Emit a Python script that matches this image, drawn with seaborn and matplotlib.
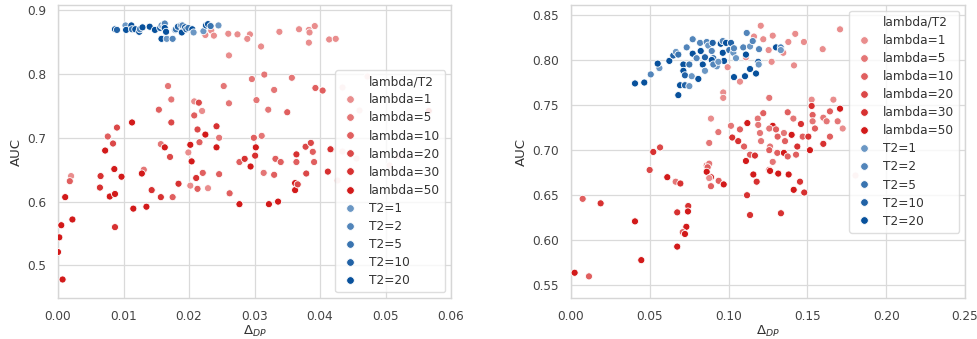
import matplotlib
matplotlib.use("Agg")
import matplotlib.pyplot as plt
from matplotlib.lines import Line2D
import seaborn as sns
import pandas as pd

# ---------------- data ----------------
LEGEND_TITLE = "lambda/T2"
group_labels = ["lambda=1", "lambda=5", "lambda=10", "lambda=20", "lambda=30", "lambda=50",
                "T2=1", "T2=2", "T2=5", "T2=10", "T2=20"]
group_codes = ["l1", "l5", "l10", "l20", "l30", "l50", "t1", "t2", "t5", "t10", "t20"]

# left panel
left_dp = [
    0.0234, 0.0238, 0.0225, 0.0260, 0.0274, 0.0293, 0.0289, 0.0310, 0.0338, 0.0368, 0.0383, 0.0384,
    0.0392, 0.0383, 0.0414, 0.0424, 0.0261, 0.0296, 0.0315, 0.0357, 0.0253, 0.0330, 0.0393, 0.0404,
    0.0168, 0.0261, 0.0303, 0.0321, 0.0350, 0.0173, 0.0208, 0.0215, 0.0220, 0.0154, 0.0208, 0.0566,
    0.0113, 0.0173, 0.0090, 0.0242, 0.0213, 0.0225, 0.0246, 0.0076, 0.0084, 0.0072, 0.0157, 0.0163,
    0.0202, 0.0216, 0.0242, 0.0199, 0.0171, 0.0204, 0.0277, 0.0285, 0.0294, 0.0086, 0.0299, 0.0311,
    0.0302, 0.0301, 0.0332, 0.0340, 0.0364, 0.0364, 0.0378, 0.0386, 0.0389, 0.0391, 0.0416, 0.0020,
    0.0018, 0.0065, 0.0097, 0.0131, 0.0128, 0.0221, 0.0246, 0.0211, 0.0064, 0.0184, 0.0202, 0.0213,
    0.0229, 0.0143, 0.0011, 0.0079, 0.0087, 0.0157, 0.0175, 0.0262, 0.0115, 0.0135, 0.0277, 0.0022,
    0.0005, 0.0087, 0.0002, 0.0000, 0.0007, 0.0314, 0.0330, 0.0379, 0.0412, 0.0322, 0.0336, 0.0362,
    0.0362, 0.0366,
    0.0087, 0.0090, 0.0103, 0.0104, 0.0112, 0.0113, 0.0118, 0.0124, 0.0125, 0.0129, 0.0140, 0.0148,
    0.0156, 0.0158, 0.0158, 0.0161, 0.0163, 0.0163, 0.0165, 0.0166, 0.0175, 0.0179, 0.0180, 0.0183,
    0.0188, 0.0189, 0.0190, 0.0194, 0.0196, 0.0199, 0.0205, 0.0207, 0.0222, 0.0226, 0.0229, 0.0233,
    0.0245,
]
left_auc = [
    0.868, 0.860, 0.861, 0.863, 0.862, 0.862, 0.855, 0.843, 0.866, 0.870, 0.869, 0.865,
    0.875, 0.849, 0.854, 0.855, 0.829, 0.792, 0.799, 0.794, 0.781, 0.775, 0.778, 0.774,
    0.781, 0.754, 0.759, 0.744, 0.740, 0.760, 0.757, 0.755, 0.742, 0.744, 0.735, 0.742,
    0.724, 0.724, 0.716, 0.718, 0.713, 0.705, 0.700, 0.702, 0.691, 0.680, 0.690, 0.685,
    0.689, 0.693, 0.685, 0.677, 0.670, 0.663, 0.662, 0.667, 0.655, 0.651, 0.700, 0.703,
    0.685, 0.672, 0.667, 0.662, 0.674, 0.662, 0.686, 0.692, 0.678, 0.662, 0.682, 0.640,
    0.632, 0.640, 0.639, 0.650, 0.644, 0.645, 0.643, 0.637, 0.622, 0.628, 0.625, 0.620,
    0.621, 0.618, 0.607, 0.608, 0.612, 0.607, 0.607, 0.613, 0.589, 0.592, 0.596, 0.572,
    0.563, 0.560, 0.544, 0.521, 0.478, 0.645, 0.642, 0.644, 0.647, 0.596, 0.600, 0.629,
    0.618, 0.627,
    0.870, 0.869, 0.876, 0.869, 0.876, 0.870, 0.870, 0.866, 0.870, 0.873, 0.874, 0.869,
    0.872, 0.855, 0.876, 0.874, 0.879, 0.872, 0.866, 0.855, 0.855, 0.869, 0.870, 0.874,
    0.876, 0.865, 0.876, 0.873, 0.870, 0.872, 0.870, 0.865, 0.867, 0.876, 0.878, 0.875,
    0.876,
]
left_group = [
    "l1", "l1", "l1", "l1", "l1", "l1", "l1", "l1", "l1", "l1", "l1", "l1",
    "l1", "l1", "l1", "l1", "l1", "l5", "l5", "l5", "l5", "l5", "l10", "l10",
    "l5", "l5", "l5", "l5", "l10", "l5", "l1", "l20", "l1", "l10", "l10", "l1",
    "l50", "l20", "l20", "l30", "l20", "l50", "l5", "l10", "l20", "l50", "l5", "l50",
    "l50", "l10", "l50", "l1", "l20", "l50", "l10", "l30", "l50", "l50", "l10", "l5",
    "l50", "l30", "l10", "l10", "l30", "l10", "l20", "l20", "l10", "l10", "l30", "l1",
    "l10", "l30", "l50", "l5", "l50", "l10", "l10", "l30", "l30", "l30", "l1", "l10",
    "l1", "l30", "l50", "l50", "l50", "l30", "l10", "l10", "l50", "l50", "l50", "l50",
    "l50", "l30", "l50", "l50", "l50", "l5", "l10", "l20", "l30", "l50", "l50", "l50",
    "l50", "l20",
    "t20", "t10", "t1", "t20", "t20", "t5", "t20", "t20", "t2", "t20", "t20", "t20",
    "t10", "t20", "t1", "t2", "t2", "t20", "t20", "t1", "t2", "t20", "t5", "t10",
    "t20", "t20", "t2", "t20", "t10", "t5", "t20", "t1", "t1", "t20", "t20", "t5",
    "t1",
]
left_faint_dp = [0.0433, 0.0472, 0.0459, 0.0417, 0.0433, 0.0455, 0.0426, 0.0519, 0.0505]
left_faint_auc = [0.779, 0.797, 0.743, 0.682, 0.680, 0.668, 0.634, 0.671, 0.657]

# right panel
right_dp = [
    0.1204, 0.1161, 0.1220, 0.1280, 0.1423, 0.1379, 0.1478, 0.1347, 0.1254, 0.1110, 0.1273, 0.1415,
    0.0994, 0.1072, 0.0966, 0.0966, 0.1707, 0.1597, 0.1258,
    0.1665, 0.1527, 0.1527, 0.1707, 0.1643, 0.1533, 0.1375, 0.1220, 0.0888, 0.1185, 0.1411, 0.1601,
    0.1622, 0.1533, 0.1015, 0.1119, 0.1280, 0.1459, 0.1548, 0.1188, 0.1199, 0.1258, 0.1301, 0.0935,
    0.1023, 0.1072, 0.1061, 0.1311, 0.1351, 0.1400, 0.1470, 0.1506, 0.1643, 0.1724, 0.1692, 0.0877,
    0.1206, 0.1263, 0.1358, 0.1436, 0.1516, 0.1601, 0.1098, 0.1136, 0.1167, 0.1110, 0.1258, 0.1309,
    0.1351, 0.1375, 0.1428, 0.1280, 0.0522, 0.0565, 0.1258, 0.0861,
    0.1263, 0.1315, 0.1381, 0.1453, 0.1413, 0.1480, 0.1117, 0.1136, 0.1332, 0.1157, 0.1178, 0.0499,
    0.0611, 0.0664, 0.0694, 0.0877, 0.0867, 0.0861, 0.0888, 0.0877, 0.0888, 0.0937, 0.0969, 0.0074,
    0.0188, 0.0406, 0.0446, 0.0674, 0.0744, 0.0742, 0.0732, 0.0709, 0.0723, 0.0674, 0.0023, 0.0114,
    0.0406, 0.0465, 0.0506, 0.0561, 0.0550, 0.0624, 0.0649, 0.0666, 0.0681, 0.0681, 0.0692, 0.0723,
    0.0751, 0.0713, 0.0713, 0.0723, 0.0734, 0.0772, 0.0751, 0.0772, 0.0766, 0.0808, 0.0797, 0.0819,
    0.0823, 0.0850, 0.0836, 0.0850, 0.0861, 0.0871, 0.0893, 0.0899, 0.0903, 0.0893, 0.0925, 0.0903,
    0.0950, 0.0963, 0.0963, 0.0971, 0.0935, 0.0984, 0.1015, 0.1004, 0.1030, 0.1034, 0.1047, 0.1034,
    0.1093, 0.1110, 0.1104, 0.1115, 0.1136, 0.1136, 0.1153, 0.1174, 0.1188, 0.1191, 0.1193, 0.1301,
    0.1331, 0.1331,
]
right_auc = [
    0.838, 0.826, 0.823, 0.827, 0.829, 0.820, 0.820, 0.808, 0.811, 0.803, 0.798, 0.794,
    0.792, 0.776, 0.764, 0.758, 0.834, 0.812, 0.758,
    0.756, 0.756, 0.749, 0.746, 0.743, 0.739, 0.742, 0.741, 0.735, 0.735, 0.735, 0.736,
    0.732, 0.732, 0.727, 0.730, 0.727, 0.729, 0.724, 0.728, 0.719, 0.724, 0.723, 0.720,
    0.714, 0.723, 0.710, 0.715, 0.719, 0.717, 0.715, 0.715, 0.715, 0.724, 0.732, 0.708,
    0.710, 0.704, 0.710, 0.704, 0.700, 0.707, 0.704, 0.695, 0.694, 0.688, 0.700, 0.697,
    0.697, 0.693, 0.695, 0.687, 0.698, 0.703, 0.678, 0.683,
    0.677, 0.674, 0.673, 0.665, 0.656, 0.653, 0.650, 0.628, 0.630, 0.673, 0.665, 0.678,
    0.670, 0.665, 0.663, 0.685, 0.681, 0.676, 0.670, 0.669, 0.660, 0.666, 0.662, 0.646,
    0.641, 0.621, 0.578, 0.631, 0.638, 0.632, 0.615, 0.609, 0.607, 0.593, 0.564, 0.560,
    0.774, 0.775, 0.784, 0.791, 0.796, 0.799, 0.805, 0.809, 0.806, 0.761, 0.772, 0.772,
    0.771, 0.795, 0.788, 0.783, 0.814, 0.823, 0.795, 0.807, 0.782, 0.779, 0.802, 0.819,
    0.810, 0.803, 0.795, 0.788, 0.820, 0.816, 0.810, 0.819, 0.802, 0.800, 0.793, 0.795,
    0.818, 0.821, 0.808, 0.799, 0.798, 0.819, 0.819, 0.811, 0.808, 0.813, 0.802, 0.781,
    0.814, 0.806, 0.782, 0.830, 0.815, 0.790, 0.821, 0.785, 0.798, 0.795, 0.812, 0.814,
    0.814, 0.811,
]
right_group = [
    "l1", "l1", "l1", "l1", "l1", "l1", "l1", "l1", "l1", "l1", "l1", "l1",
    "l1", "l1", "l1", "l1", "l1", "l1", "l5",
    "l1", "l1", "l30", "l50", "l10", "l10", "l10", "l10", "l1", "l5", "l5", "l5",
    "l5", "l5", "l5", "l50", "l50", "l30", "l10", "l5", "l5", "l5", "l10", "l5",
    "l30", "l10", "l30", "l10", "l5", "l50", "l10", "l30", "l10", "l1", "l5", "l5",
    "l5", "l5", "l10", "l30", "l50", "l30", "l10", "l10", "l30", "l50", "l10", "l10",
    "l50", "l10", "l10", "l5", "l30", "l20", "l50", "l5",
    "l50", "l50", "l50", "l30", "l50", "l30", "l30", "l30", "l30", "l50", "l30", "l20",
    "l50", "l5", "l30", "l5", "l10", "l50", "l50", "l1", "l10", "l10", "l50", "l10",
    "l30", "l50", "l50", "l30", "l30", "l50", "l50", "l10", "l50", "l50", "l50", "l10",
    "t20", "t20", "t2", "t1", "t20", "t20", "t10", "t1", "t5", "t20", "t20", "t10",
    "t1", "t20", "t20", "t10", "t2", "t2", "t5", "t20", "t1", "t20", "t2", "t2",
    "t20", "t10", "t20", "t1", "t2", "t1", "t2", "t10", "t5", "t20", "t1", "t2",
    "t20", "t2", "t20", "t20", "t1", "t20", "t10", "t5", "t1", "t2", "t1", "t20",
    "t2", "t20", "t20", "t2", "t1", "t20", "t2", "t20", "t10", "t1", "t2", "t20",
    "t2", "t1",
]
right_faint_dp = [0.180]
right_faint_auc = [0.672]

# ---------------- styling ----------------
def blend(base, a):
    return tuple(a * c / 255 + (1 - a) for c in base)

RED = (210, 26, 26)
BLUE = (8, 81, 156)
alphas_red = [0.5, 0.6, 0.7, 0.8, 0.9, 1.0]
alphas_blue = [0.6, 0.7, 0.8, 0.9, 1.0]
colors = [blend(RED, a) for a in alphas_red] + [blend(BLUE, a) for a in alphas_blue]
palette = dict(zip(group_labels, colors))
faint_color = blend(RED, 0.2)
code_to_label = dict(zip(group_codes, group_labels))

sns.set_theme(style="whitegrid")
plt.rcParams["font.family"] = ["DejaVu Sans"]
plt.rcParams["mathtext.fontset"] = "dejavusans"

fig = plt.figure(figsize=(9.78, 3.39), dpi=100)
W, H = 978, 339
ax1 = fig.add_axes([58 / W, (H - 298) / H, (451 - 58) / W, (298 - 5) / H])
ax2 = fig.add_axes([571 / W, (H - 298) / H, (965 - 571) / W, (298 - 5) / H])


def draw(ax, dp, auc, grp, fdp, fauc, xlim, ylim, xticks, yticks, xfmt, yfmt, loc):
    df = pd.DataFrame({"dp": dp, "auc": auc, "grp": [code_to_label[g] for g in grp]})
    sns.scatterplot(x=fdp, y=fauc, color=faint_color, s=26, edgecolor="white",
                    linewidth=0.6, ax=ax, legend=False, zorder=2)
    sns.scatterplot(data=df, x="dp", y="auc", hue="grp", hue_order=group_labels,
                    palette=palette, s=26, edgecolor="white", linewidth=0.6,
                    ax=ax, legend=False, zorder=3)
    ax.set_xlim(*xlim)
    ax.set_ylim(*ylim)
    ax.set_xticks(xticks)
    ax.set_yticks(yticks)
    ax.set_xticklabels([xfmt.format(t) for t in xticks])
    ax.set_yticklabels([yfmt.format(t) for t in yticks])
    ax.tick_params(labelsize=8.7, colors="#444444", pad=2.5)
    ax.set_xlabel(r"$\Delta_{DP}$", fontsize=9.5, color="#333333", labelpad=0.5)
    ax.set_ylabel("AUC", fontsize=9.5, color="#333333", labelpad=3)
    for sp in ax.spines.values():
        sp.set_color("#d6d6d6")
        sp.set_linewidth(1.0)
    ax.grid(color="#dadada", linewidth=0.9)
    handles = [Line2D([], [], linestyle="", marker="")]
    labels = [LEGEND_TITLE]
    for lab in group_labels:
        handles.append(Line2D([], [], linestyle="", marker="o", markersize=5.5,
                              markerfacecolor=palette[lab], markeredgecolor="white",
                              markeredgewidth=0.6))
        labels.append(lab)
    leg = ax.legend(handles, labels, loc=loc, fontsize=8.7, frameon=True,
                    labelspacing=0.42, handletextpad=0.8, borderpad=0.4,
                    handlelength=1.6)
    leg.get_frame().set_edgecolor("#d6d6d6")
    for t in leg.get_texts():
        t.set_color("#333333")


draw(ax1, left_dp, left_auc, left_group, left_faint_dp, left_faint_auc,
     (0.0, 0.06), (0.449, 0.908), [0.0, 0.01, 0.02, 0.03, 0.04, 0.05, 0.06],
     [0.5, 0.6, 0.7, 0.8, 0.9], "{:.2f}", "{:.1f}", "lower right")
draw(ax2, right_dp, right_auc, right_group, right_faint_dp, right_faint_auc,
     (0.0, 0.25), (0.536, 0.861), [0.0, 0.05, 0.10, 0.15, 0.20, 0.25],
     [0.55, 0.60, 0.65, 0.70, 0.75, 0.80, 0.85], "{:.2f}", "{:.2f}", "upper right")

fig.savefig("out.png", dpi=100)
